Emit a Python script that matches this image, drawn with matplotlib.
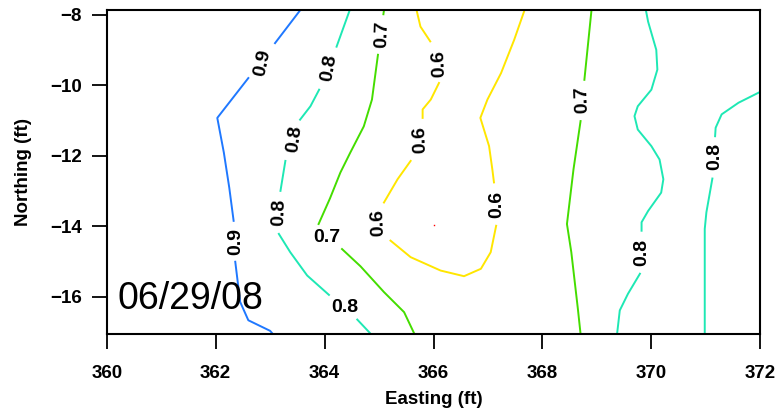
import numpy as np
import matplotlib
matplotlib.use("Agg")
from matplotlib import pyplot as plt

nan = np.nan

# contour polylines (nan = gap for a label)
c09_x = [363.55, 363.09, nan, 362.60, 362.03, 362.15, 362.25, 362.33, nan, 362.36, 362.45, 362.60, 363.00, 363.05]
c09_y = [-7.87, -8.80, nan, -9.79, -10.92, -11.90, -12.90, -13.84, nan, -15.00, -16.14, -16.66, -16.96, -17.05]

c08a_x = [364.46, 364.22, nan, 363.90, 363.74, 363.55, nan, 363.28, 363.19, nan, 363.16, 363.37, 363.68, 364.08, nan, 364.60, 364.85]
c08a_y = [-7.87, -8.90, nan, -10.12, -10.59, -10.97, nan, -12.14, -12.99, nan, -14.21, -14.73, -15.39, -15.94, nan, -16.64, -17.05]

c07a_x = [365.09, 365.08, nan, 364.98, 364.87, 364.72, 364.47, 364.29, 364.10, 363.89, nan, 364.32, 364.66, 365.09, 365.46, 365.65]
c07a_y = [-7.87, -7.98, nan, -9.13, -10.40, -11.16, -11.91, -12.47, -13.20, -13.93, nan, -14.64, -15.13, -15.86, -16.43, -17.05]

c06_x = [365.69, 365.76, 365.94, nan, 366.10, 365.95, 365.80, 365.80, nan, 365.58, 365.34, 365.09, nan,
         365.21, 365.58, 366.13, 366.56, 366.87, 367.05, 367.15, nan,
         367.11, 367.08, 367.02, 366.86, 366.99, 367.24, 367.48, 367.67]
c06_y = [-7.87, -8.33, -8.75, nan, -9.93, -10.40, -10.68, -10.92, nan, -12.14, -12.66, -13.32, nan,
         -14.40, -14.87, -15.25, -15.41, -15.20, -14.73, -13.98, nan,
         -12.75, -12.38, -11.72, -10.92, -10.40, -9.65, -8.71, -7.87]

c07b_x = [368.90, 368.77, nan, 368.70, 368.57, 368.45, 368.53, 368.65, 368.70]
c07b_y = [-7.87, -9.84, nan, -11.01, -12.38, -13.93, -14.73, -16.33, -17.05]

c08b_x = [369.90, 369.94, 370.09, 370.11, 370.00, 369.75, 369.69, 369.75, 370.00, 370.15, 370.22, 370.18,
          369.94, 369.82, 369.82, nan, 369.79, 369.57, 369.42, 369.37]
c08b_y = [-7.87, -8.19, -8.99, -9.55, -10.12, -10.59, -10.87, -11.25, -11.72, -12.10, -12.66, -13.04,
          -13.56, -13.88, -14.12, nan, -15.34, -15.91, -16.38, -17.05]

c08c_x = [372.00, 371.60, 371.29, 371.18, 371.17, nan, 371.12, 371.01, 370.98, 370.98]
c08c_y = [-10.18, -10.49, -10.82, -11.20, -11.44, nan, -12.64, -13.60, -14.07, -17.05]

# contour labels
lab_x = [362.87, 362.36, 364.08, 363.45, 363.16, 364.38, 365.06, 364.05,
         366.11, 365.75, 364.98, 367.16, 368.74, 369.82, 371.17]
lab_y = [-9.36, -14.44, -9.50, -11.53, -13.60, -16.29, -8.56, -14.30,
         -9.37, -11.53, -13.88, -13.37, -10.40, -14.73, -12.00]
lab_txt = ["0.9", "0.9", "0.8", "0.8", "0.8", "0.8", "0.7", "0.7",
           "0.6", "0.6", "0.6", "0.6", "0.7", "0.8", "0.8"]
lab_rot = [78, 90, 80, 82, 88, 0, 88, 0, 92, 92, 92, 90, 92, 90, 90]

colors = {"0.9": "#1f78ff", "0.8": "#1ee8b4", "0.7": "#44dd00", "0.6": "#ffe600"}

plt.rcParams['font.family'] = ['Liberation Sans', 'DejaVu Sans']

fig = plt.figure(figsize=(7.79, 4.17), dpi=100)
ax = fig.add_axes([0.137, 0.199, 0.839, 0.777])

ax.plot(c09_x, c09_y, color=colors["0.9"], lw=1.4)
ax.plot(c08a_x, c08a_y, color=colors["0.8"], lw=1.4)
ax.plot(c07a_x, c07a_y, color=colors["0.7"], lw=1.4)
ax.plot(c06_x, c06_y, color=colors["0.6"], lw=1.4)
ax.plot(c07b_x, c07b_y, color=colors["0.7"], lw=1.4)
ax.plot(c08b_x, c08b_y, color=colors["0.8"], lw=1.4)
ax.plot(c08c_x, c08c_y, color=colors["0.8"], lw=1.4)

for x, y, t, r in zip(lab_x, lab_y, lab_txt, lab_rot):
    ax.text(x, y, t, rotation=r, ha='center', va='center', fontsize=14,
            fontweight='bold', rotation_mode='anchor')

# sample point
ax.plot([366.0], [-13.96], 's', color='red', ms=1, mec='none')

ax.text(360.2, -16.33, "06/29/08", fontsize=27, ha='left', va='baseline')

ax.set_xlim(360, 372)
ax.set_ylim(-17.05, -7.86)
ax.set_xticks([360, 362, 364, 366, 368, 370, 372])
ax.set_yticks([-16, -14, -12, -10, -8])
ax.tick_params(direction='out', length=11, width=1.3, labelsize=13.5, pad=7)
ax.tick_params(axis='x', pad=11)
for lbl in ax.get_xticklabels() + ax.get_yticklabels():
    lbl.set_fontweight('bold')
for s in ax.spines.values():
    s.set_linewidth(1.5)

ax.set_xlabel("Easting (ft)", fontsize=13.5, fontweight='bold', labelpad=7)
ax.set_ylabel("Northing (ft)", fontsize=13.5, fontweight='bold', labelpad=13)

fig.savefig("out.png", dpi=100)
